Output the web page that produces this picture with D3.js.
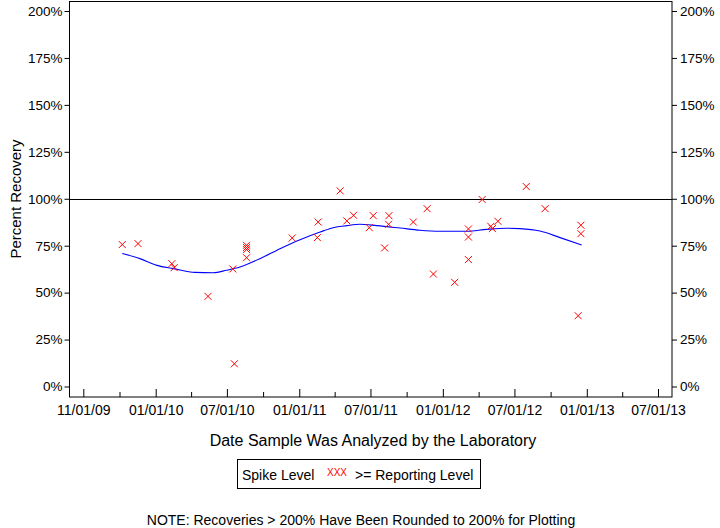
<!DOCTYPE html>
<html><head><meta charset="utf-8">
<script src="https://cdn.jsdelivr.net/npm/d3@7"></script>
<style>
body{margin:0;background:#fff;}
svg{display:block;font-family:"Liberation Sans",Arial,sans-serif;}
</style></head>
<body>
<svg id="c" width="720" height="528"></svg>
<script>
// Data
const pointDates = ["2009-10-08","2009-11-17","2010-02-11","2010-02-17","2010-05-14","2010-07-16","2010-07-20",
 "2010-08-20","2010-08-20","2010-08-20","2010-08-20","2010-12-14","2011-02-18","2011-02-16","2011-04-15",
 "2011-05-02","2011-05-19","2011-06-28","2011-07-08","2011-08-06","2011-08-17","2011-08-16","2011-10-18",
 "2011-11-22","2011-12-08","2012-01-31","2012-03-06","2012-03-06","2012-03-06","2012-04-10","2012-05-02",
 "2012-05-06","2012-05-20","2012-07-31","2012-09-17","2012-12-17","2012-12-17","2012-12-10"];
const pointValues = [75.6,76.1,65.4,63.3,48.0,62.6,12.1,
 75.2,74.0,72.9,68.6,79.1,87.6,79.3,104.2,
 88.2,91.2,84.6,91.0,73.8,91.0,86.4,87.6,
 94.7,59.9,55.5,83.9,79.6,67.6,99.6,85.3,
 84.1,88.0,106.5,94.7,85.9,81.4,37.7];
const curveDates = ["2009-10-08","2009-11-22","2010-01-04","2010-02-15","2010-04-11","2010-05-27","2010-06-30",
 "2010-08-03","2010-09-23","2010-11-13","2011-01-03","2011-02-23","2011-03-28","2011-05-02","2011-06-04",
 "2011-07-17","2011-09-14","2011-11-04","2011-12-25","2012-03-02","2012-04-21","2012-06-11","2012-07-15",
 "2012-09-04","2012-10-25","2012-12-19"];
const curveValues = [70.8,68.1,64.5,62.8,60.8,60.6,61.9,
 63.6,68.1,73.4,78.2,82.3,84.6,85.7,86.4,
 85.7,84.4,83.2,82.7,82.7,83.7,84.3,84.1,
 82.8,79.3,75.4];
const xTickDates = ["2009-07-01","2010-01-01","2010-07-01","2011-01-01","2011-07-01","2012-01-01","2012-07-01","2013-01-01","2013-07-01"];
const xTickLabels = ["11/01/09","01/01/10","07/01/10","01/01/11","07/01/11","01/01/12","07/01/12","01/01/13","07/01/13"];
const xMinorDates = ["2009-10-01","2010-04-01","2010-10-01","2011-04-01","2011-10-01","2012-04-01","2012-10-01","2013-04-01"];
const yTicks = [0,25,50,75,100,125,150,175,200];

const parse = d3.utcParse("%Y-%m-%d");
const svg = d3.select("#c");
const L = 69.5, R = 672, T = 1.5, B = 397;
const x = d3.scaleUtc().domain([parse("2010-01-01"), parse("2013-07-01")]).range([155.7, 658]);
const y = d3.scaleLinear().domain([0, 200]).range([386.5, 11]);
const font = '"Liberation Sans",Arial,sans-serif';

// frame
svg.append("rect").attr("x", L).attr("y", T).attr("width", R - L).attr("height", B - T)
  .attr("fill", "none").attr("stroke", "#000").attr("stroke-width", 1);

// 100% reference line
svg.append("line").attr("x1", L).attr("x2", R).attr("y1", Math.round(y(100)) + 0.5).attr("y2", Math.round(y(100)) + 0.5)
  .attr("stroke", "#000").attr("stroke-width", 1);

// y axes
const yl = svg.append("g").attr("transform", `translate(${L},0)`)
  .call(d3.axisLeft(y).tickValues(yTicks).tickSize(5).tickPadding(2).tickFormat(d => d + "%"));
const yr = svg.append("g").attr("transform", `translate(${R},0)`)
  .call(d3.axisRight(y).tickValues(yTicks).tickSize(5).tickPadding(3).tickFormat(d => d + "%"));
[yl, yr].forEach(g => {
  g.select(".domain").remove();
  g.selectAll("text").attr("font-size", 13.5).attr("font-family", font).attr("fill", "#000");
  g.selectAll("line").attr("stroke", "#000");
});

// x axis major
const xa = svg.append("g").attr("transform", `translate(0,${B})`)
  .call(d3.axisBottom(x).tickValues(xTickDates.map(parse)).tickSizeInner(-8).tickSizeOuter(0).tickPadding(8)
    .tickFormat((d, i) => xTickLabels[i]));
xa.select(".domain").remove();
xa.selectAll("text").attr("font-size", 14).attr("font-family", font).attr("fill", "#000");
xa.selectAll("line").attr("stroke", "#000");
// x axis minor
const xm = svg.append("g").attr("transform", `translate(0,${B})`)
  .call(d3.axisBottom(x).tickValues(xMinorDates.map(parse)).tickSizeInner(-5).tickSizeOuter(0).tickFormat(""));
xm.select(".domain").remove();
xm.selectAll("line").attr("stroke", "#000");

// smooth curve
const line = d3.line().x(d => x(d[0])).y(d => y(d[1])).curve(d3.curveMonotoneX);
svg.append("path").datum(curveDates.map((d, i) => [parse(d), curveValues[i]]))
  .attr("d", line).attr("fill", "none").attr("stroke", "#0000ff").attr("stroke-width", 1.1);

// points
const s = 3.5;
svg.append("g").selectAll("path").data(pointDates.map((d, i) => [parse(d), pointValues[i]]))
  .join("path")
  .attr("d", d => { const cx = x(d[0]), cy = y(d[1]);
    return `M${cx - s},${cy - s}L${cx + s},${cy + s}M${cx - s},${cy + s}L${cx + s},${cy - s}`; })
  .attr("stroke", "#ff0000").attr("stroke-width", 1).attr("fill", "none");

// titles
svg.append("text").attr("x", 373).attr("y", 446).attr("text-anchor", "middle")
  .attr("font-size", 16).attr("font-family", font).text("Date Sample Was Analyzed by the Laboratory");
svg.append("text").attr("transform", "translate(21,199) rotate(-90)").attr("text-anchor", "middle")
  .attr("font-size", 15).attr("font-family", font).text("Percent Recovery");

// legend
svg.append("rect").attr("x", 237.5).attr("y", 459.5).attr("width", 243).attr("height", 29)
  .attr("fill", "none").attr("stroke", "#000").attr("stroke-width", 1);
svg.append("text").attr("x", 242).attr("y", 479.5).attr("font-size", 14).attr("font-family", font).text("Spike Level");
svg.append("text").attr("x", 327).attr("y", 476).attr("font-size", 10).attr("font-family", font).attr("fill", "#ff0000").text("XXX");
svg.append("text").attr("x", 355).attr("y", 479.5).attr("font-size", 14).attr("font-family", font).text(">= Reporting Level");

// note
svg.append("text").attr("x", 361).attr("y", 525).attr("text-anchor", "middle")
  .attr("font-size", 14).attr("font-family", font).text("NOTE: Recoveries > 200% Have Been Rounded to 200% for Plotting");
</script>
</body></html>
